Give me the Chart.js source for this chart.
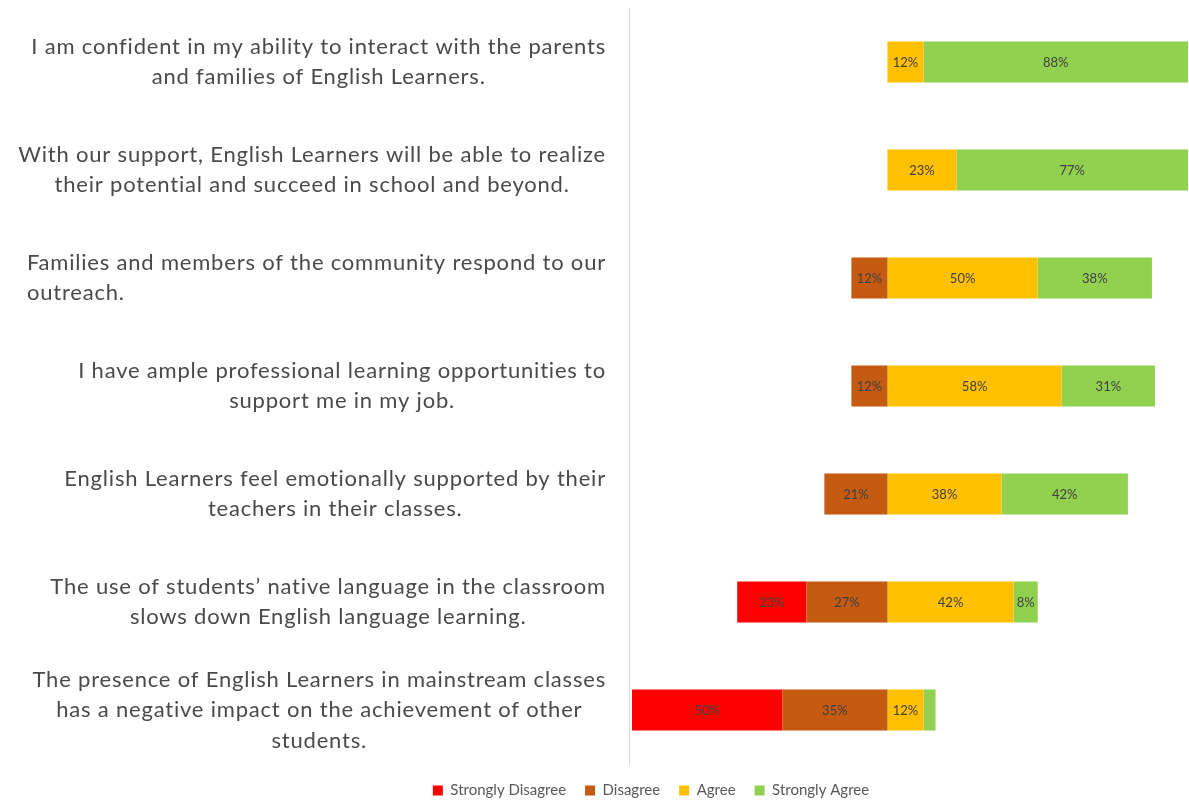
<!DOCTYPE html>
<html>
<head>
<meta charset="utf-8">
<script src="https://cdn.jsdelivr.net/npm/chart.js@4.4.1/dist/chart.umd.min.js"></script>
<style>
  html, body { margin: 0; padding: 0; background: #fff; }
  #wrap { width: 1189px; height: 804px; }
</style>
</head>
<body>
<div id="wrap"><canvas id="likertChart"></canvas></div>
<script>
// statements (one line per array item, as wrapped in the original)
const statements = [
  ['I am confident in my ability to interact with the parents', 'and families of English Learners.'],
  ['With our support, English Learners will be able to realize', 'their potential and succeed in school and beyond.'],
  ['Families and members of the community respond to our', 'outreach.'],
  ['I have ample professional learning opportunities to', 'support me in my job.'],
  ['English Learners feel emotionally supported by their', 'teachers in their classes.'],
  ['The use of students\u2019 native language in the classroom', 'slows down English language learning.'],
  ['The presence of English Learners in mainstream classes', 'has a negative impact on the achievement of other', 'students.']
];
// how the short lines sit inside each statement block
const statementAlign = ['center', 'center', 'left', 'center', 'center', 'center', 'center'];

// percentages per response
const stronglyDisagree = [0, 0, 0, 0, 0, 23, 50];
const disagree = [0, 0, 12, 12, 21, 27, 35];
const agree = [12, 23, 50, 58, 38, 42, 12];
const stronglyAgree = [88, 77, 38, 31, 42, 8, 4];

const legendOrder = ['Strongly Disagree', 'Disagree', 'Agree', 'Strongly Agree'];

const negative = (arr) => arr.map((v) => (v ? -v : null));
const positive = (arr) => arr.map((v) => (v ? v : null));

// draw the percentage inside each segment when it fits
const segmentLabels = {
  id: 'segmentLabels',
  afterDatasetsDraw(chart) {
    const ctx = chart.ctx;
    ctx.save();
    ctx.font = '13px Lato';
    ctx.fillStyle = '#404040';
    ctx.textAlign = 'center';
    ctx.textBaseline = 'middle';
    chart.data.datasets.forEach((ds, i) => {
      const meta = chart.getDatasetMeta(i);
      meta.data.forEach((bar, j) => {
        const v = ds.data[j];
        if (!v) return;
        const text = Math.abs(v) + '%';
        const w = Math.abs(bar.x - bar.base);
        if (ctx.measureText(text).width + 2 > w) return;
        ctx.fillText(text, (bar.x + bar.base) / 2, bar.y + 1);
      });
    });
    ctx.restore();
  }
};

// statement text: block right-aligned next to the axis
const statementLabels = {
  id: 'statementLabels',
  afterDraw(chart) {
    const ctx = chart.ctx;
    const yScale = chart.scales.y;
    const right = 606;
    const lineHeight = 30.5;
    ctx.save();
    ctx.font = '22px Lato';
    ctx.letterSpacing = '0.8px';
    ctx.fillStyle = '#4a4a4a';
    ctx.textAlign = 'left';
    ctx.textBaseline = 'middle';
    statements.forEach((lines, i) => {
      const y = yScale.getPixelForValue(i);
      const widths = lines.map((l) => ctx.measureText(l).width);
      const blockWidth = Math.max(...widths);
      const left = right - blockWidth;
      const y0 = y - (lines.length - 1) * lineHeight / 2;
      lines.forEach((l, k) => {
        const x = statementAlign[i] === 'left' ? left : left + (blockWidth - widths[k]) / 2;
        ctx.fillText(l, x, y0 + k * lineHeight);
      });
    });
    ctx.restore();
  }
};

// move the legend so it is centred where the original had it
const legendShift = {
  id: 'legendShift',
  afterLayout(chart) {
    chart.legend.left += 57;
    chart.legend.right += 57;
  }
};

const chart = new Chart(document.getElementById('likertChart'), {
  type: 'bar',
  data: {
    labels: statements,
    datasets: [
      { label: 'Disagree', data: negative(disagree), backgroundColor: '#C55A11' },
      { label: 'Strongly Disagree', data: negative(stronglyDisagree), backgroundColor: '#FF0000' },
      { label: 'Agree', data: positive(agree), backgroundColor: '#FFC000' },
      { label: 'Strongly Agree', data: positive(stronglyAgree), backgroundColor: '#92D050' }
    ]
  },
  options: {
    indexAxis: 'y',
    responsive: true,
    maintainAspectRatio: false,
    animation: false,
    layout: { padding: { top: 8, right: 1, bottom: -4, left: 0 } },
    datasets: {
      bar: { categoryPercentage: 1, barPercentage: 0.38, borderWidth: 0 }
    },
    scales: {
      x: {
        stacked: true,
        display: false,
        min: -86,
        max: 100
      },
      y: {
        stacked: true,
        grid: { display: false },
        border: { display: true, color: '#d9d9d9', width: 1 },
        ticks: { display: false },
        afterFit(scale) {
          scale.width = 629;
        }
      }
    },
    plugins: {
      legend: {
        position: 'bottom',
        labels: {
          boxWidth: 10,
          boxHeight: 10,
          padding: 19,
          color: '#595959',
          font: { family: 'Lato', size: 15 },
          sort: (a, b) => legendOrder.indexOf(a.text) - legendOrder.indexOf(b.text)
        }
      },
      tooltip: { enabled: false }
    }
  },
  plugins: [segmentLabels, statementLabels, legendShift]
});
</script>
</body>
</html>
